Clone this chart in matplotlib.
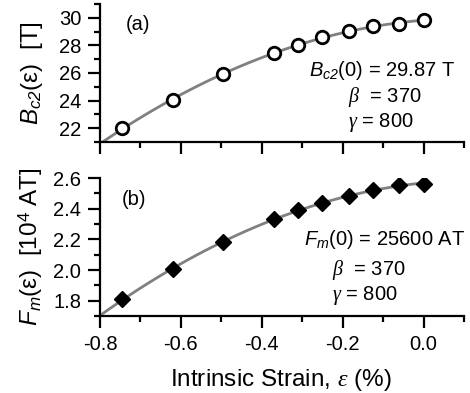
import matplotlib
matplotlib.use("Agg")
import matplotlib.pyplot as plt
from matplotlib.ticker import MultipleLocator, FormatStrFormatter
import numpy as np

plt.rcParams['font.family'] = 'Liberation Sans'
plt.rcParams['axes.unicode_minus'] = False
# sans italic for B, F (via \mathbf), serif italic for greek letters
plt.rcParams['mathtext.fontset'] = 'custom'
plt.rcParams['mathtext.rm'] = 'Liberation Sans'
plt.rcParams['mathtext.it'] = 'Liberation Serif:italic'
plt.rcParams['mathtext.bf'] = 'Liberation Sans:italic'

# strain values (%)
strain = [-0.745, -0.62, -0.495, -0.37, -0.31, -0.25, -0.185, -0.125, -0.06, 0.0]
# upper critical field, T
bc2 = [22.0, 24.04, 25.92, 27.42, 28.01, 28.64, 29.05, 29.41, 29.53, 29.84]
# max pinning force, 10^4 AT
fm = [1.81, 2.005, 2.18, 2.33, 2.39, 2.44, 2.485, 2.52, 2.555, 2.56]

xfit = np.linspace(-0.8, 0.0, 100)

fig = plt.figure(figsize=(4.7, 3.93), dpi=100)
ax1 = fig.add_axes([0.2128, 0.6387, 0.7745, 0.3511])
ax2 = fig.add_axes([0.2128, 0.1959, 0.7745, 0.3511])

grey = '#808080'
fs_txt = 14.5

# (a) Bc2
p1 = np.polyfit(strain, bc2, 2)
ax1.plot(xfit, np.polyval(p1, xfit), color=grey, lw=2, zorder=1)
ax1.plot(strain, bc2, 'o', ms=9, mfc='white', mec='black', mew=2, zorder=2)
ax1.set_ylim(21, 31)
ax1.yaxis.set_major_locator(MultipleLocator(2))
ax1.yaxis.set_minor_locator(MultipleLocator(1))
ax1.set_ylabel(r'$\mathbf{B}_{\mathbf{c2}}(\mathrm{\varepsilon})$  [T]', fontsize=17.5)
ax1.yaxis.set_label_coords(-0.15, 0.5)
ax1.tick_params(labelbottom=False)
ax1.text(0.07, 0.848, '(a)', transform=ax1.transAxes, fontsize=fs_txt, va='center')
ax1.text(0.975, 0.52, r'$\mathbf{B}_{\mathbf{c2}}$(0) = 29.87 T', transform=ax1.transAxes,
         fontsize=fs_txt, ha='right', va='center')
ax1.text(0.681, 0.326, r'$\beta$  = 370', transform=ax1.transAxes,
         fontsize=fs_txt, ha='left', va='center')
ax1.text(0.681, 0.138, r'$\gamma$ = 800', transform=ax1.transAxes,
         fontsize=fs_txt, ha='left', va='center')

# (b) Fm
p2 = np.polyfit(strain, fm, 2)
ax2.plot(xfit, np.polyval(p2, xfit), color=grey, lw=2, zorder=1)
ax2.plot(strain, fm, 'D', ms=8.5, color='black', zorder=2)
ax2.set_ylim(1.7, 2.6)
ax2.yaxis.set_major_locator(MultipleLocator(0.2))
ax2.yaxis.set_minor_locator(MultipleLocator(0.1))
ax2.yaxis.set_major_formatter(FormatStrFormatter('%.1f'))
ax2.set_ylabel(r'$\mathbf{F}_{\mathbf{m}}(\mathrm{\varepsilon})$  [10$^4$ AT]', fontsize=17.5)
ax2.yaxis.set_label_coords(-0.15, 0.5)
ax2.text(0.06, 0.848, '(b)', transform=ax2.transAxes, fontsize=fs_txt, va='center')
ax2.text(1.004, 0.551, r'$\mathbf{F}_{\mathbf{m}}$(0) = 25600 AT', transform=ax2.transAxes,
         fontsize=fs_txt, ha='right', va='center')
ax2.text(0.637, 0.333, r'$\beta$  = 370', transform=ax2.transAxes,
         fontsize=fs_txt, ha='left', va='center')
ax2.text(0.637, 0.152, r'$\gamma$ = 800', transform=ax2.transAxes,
         fontsize=fs_txt, ha='left', va='center')
ax2.set_xlabel(r'Intrinsic Strain, $\varepsilon$ (%)', fontsize=17.5)
ax2.xaxis.set_label_coords(0.497, -0.37)
ax2.xaxis.set_major_formatter(FormatStrFormatter('%.1f'))

for ax in (ax1, ax2):
    ax.set_xlim(-0.8, 0.1)
    ax.xaxis.set_major_locator(MultipleLocator(0.2))
    ax.xaxis.set_minor_locator(MultipleLocator(0.1))
    ax.spines['top'].set_visible(False)
    ax.spines['right'].set_visible(False)
    ax.spines['left'].set_linewidth(1.6)
    ax.spines['bottom'].set_linewidth(1.6)
    ax.tick_params(which='major', direction='out', length=8.5, width=1.6, labelsize=14.5)
    ax.tick_params(which='minor', direction='out', length=4.5, width=1.6)
    ax.tick_params(axis='x', which='major', pad=5)
    ax.tick_params(axis='y', which='major', pad=5)

fig.savefig('out.png', dpi=100)
